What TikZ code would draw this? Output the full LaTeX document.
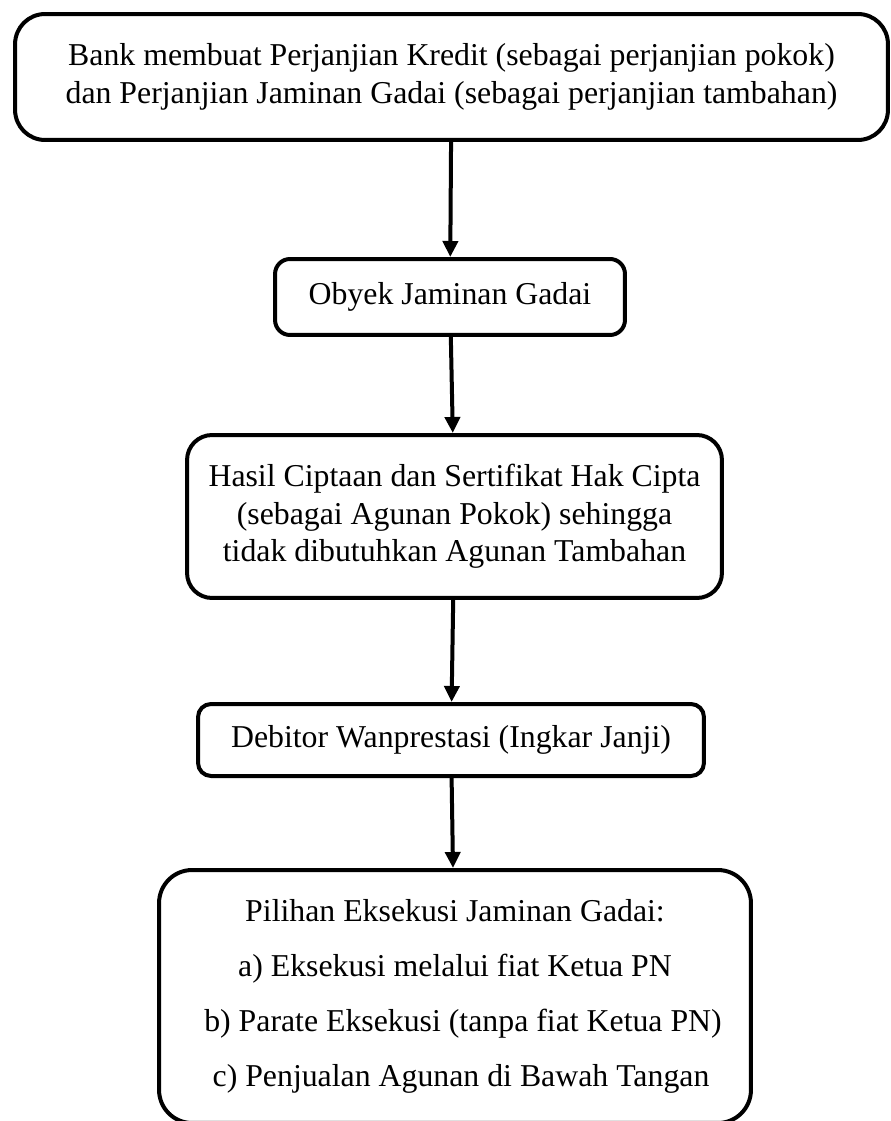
\documentclass[tikz,border=0pt]{standalone}
\usepackage{fontspec}
\setmainfont{Liberation Serif}
\usetikzlibrary{arrows.meta}

\begin{document}
\begin{tikzpicture}[x=0.02cm, y=-0.02cm,
  box/.style={draw, black, line width=0.08cm, align=center, inner sep=0,
    font=\fontsize{18.1}{21.3}\selectfont},
  >={Triangle[length=0.32cm, width=0.3cm]}]
\useasboundingbox (0,0) rectangle (891,1121);
\clip (0,0) rectangle (891,1121);
\node[box, rounded corners=0.6cm, minimum width=17.46cm, minimum height=2.52cm] (bank) at (451.5,77)
  {Bank membuat Perjanjian Kredit (sebagai perjanjian pokok)\\dan Perjanjian Jaminan Gadai (sebagai perjanjian tambahan)};
\node[box, rounded corners=0.3cm, minimum width=7cm, minimum height=1.52cm] (obyek) at (450,297)
  {Obyek Jaminan Gadai};
\node[box, rounded corners=0.5cm, minimum width=10.7cm, minimum height=3.26cm] (hasil) at (454.5,516.5)
  {Hasil Ciptaan dan Sertifikat Hak Cipta\\(sebagai Agunan Pokok) sehingga\\tidak dibutuhkan Agunan Tambahan};
\node[box, rounded corners=0.26cm, minimum width=10.12cm, minimum height=1.44cm] (debitor) at (451,740)
  {Debitor Wanprestasi (Ingkar Janji)};
\node[box, rounded corners=0.66cm, minimum width=11.84cm, minimum height=5.06cm,
  font=\fontsize{18.1}{31.3}\selectfont] (pilihan) at (455,996.5)
  {Pilihan Eksekusi Jaminan Gadai:\\
   a) Eksekusi melalui fiat Ketua PN\hspace{0.4cm}\\
   \hspace{0.32cm}b) Parate Eksekusi (tanpa fiat Ketua PN)\\
   \hspace{0.24cm}c) Penjualan Agunan di Bawah Tangan};
\draw[black, line width=0.08cm, ->] (bank) -- (obyek);
\draw[black, line width=0.08cm, ->] (obyek) -- (hasil);
\draw[black, line width=0.08cm, ->] (hasil) -- (debitor);
\draw[black, line width=0.08cm, ->] (debitor) -- (pilihan);
\end{tikzpicture}
\end{document}
